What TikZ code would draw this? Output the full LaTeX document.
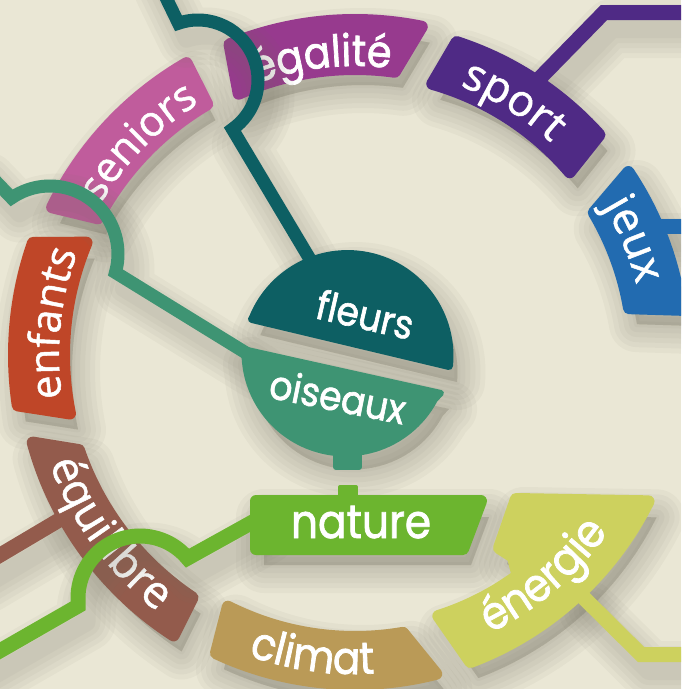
\documentclass[tikz,border=0pt]{standalone}
\usepackage{fontspec}
\newfontfamily\geo[FakeStretch=0.9,FakeBold=1.6]{Poppins}
\newfontfamily\hum[FakeBold=1.2]{Open Sans}
\usetikzlibrary{calc,decorations.text}
\definecolor{bg}{HTML}{EAE7D5}
\definecolor{shc}{HTML}{747061}
\definecolor{cEga}{HTML}{973A8E}
\definecolor{cSen}{HTML}{C05C9C}
\definecolor{cEnf}{HTML}{BF4628}
\definecolor{cEqu}{HTML}{935B4C}
\definecolor{cCli}{HTML}{BA9A57}
\definecolor{cEne}{HTML}{CDD15E}
\definecolor{cNat}{HTML}{6CB52F}
\definecolor{cOis}{HTML}{3E9473}
\definecolor{cFle}{HTML}{0D5F63}
\definecolor{cSpo}{HTML}{4F2A85}
\definecolor{cJeu}{HTML}{226BB0}
% shapes (pixel coordinates, y downwards)
\def\pEga{($(355,355)+(-114:286)$) arc[start angle=-114,end angle=-82,radius=286] -- ($(355,355)+(-78.5:335)$) arc[start angle=-78.5,end angle=-112,radius=335] -- cycle}
\def\pSen{($(355,355)+(-152:291)$) arc[start angle=-152,end angle=-120.5,radius=291] -- ($(355,355)+(-120:337)$) arc[start angle=-120,end angle=-154,radius=337] -- cycle}
\def\pEnf{($(355,355)+(168.4:291)$) arc[start angle=168.4,end angle=202.7,radius=291] -- ($(355,355)+(199.2:341)$) arc[start angle=199.2,end angle=171.5,radius=341] -- cycle}
\def\pEqu{($(355,355)+(123.8:292)$) arc[start angle=123.8,end angle=161,radius=292] -- ($(355,355)+(164.8:334)$) arc[start angle=164.8,end angle=122.9,radius=334] -- cycle}
\def\pCli{($(355,355)+(116.8:282)$) arc[start angle=116.8,end angle=80.2,radius=282] -- ($(355,355)+(75.7:329)$) arc[start angle=75.7,end angle=115,radius=329] -- cycle}
\def\pSpo{($(355,355)+(-74.1:282)$) arc[start angle=-74.1,end angle=-40.4,radius=282] -- ($(355,355)+(-42:329)$) arc[start angle=-42,end angle=-72,radius=329] -- cycle}
\def\pJeu{($(355,355)+(-30.8:278)$) arc[start angle=-30.8,end angle=-9.7,radius=278] -- ($(355,355)+(-7.9:329)$) arc[start angle=-7.9,end angle=-33.8,radius=329] -- cycle}
\def\pEne{($(355,355)+(72.3:274)$) -- ($(355,355)+(69.4:328)$) arc[start angle=69.4,end angle=26.5,radius=328] -- (516,499) -- (499,548) -- (513,557) -- ($(355,355)+(53.6:274)$) arc[start angle=53.6,end angle=72.3,radius=274] -- cycle}
\def\pNat{(256,501) -- (481,501) -- (463,549) -- (256,549) -- cycle}
\def\pTab{(340,487) -- (356,487) -- (356,500) -- (340,500) -- cycle}
\def\pKnob{(336,452) -- (359,452) -- (359,467) -- (336,467) -- cycle}
\def\pFle{(252,319) -- (449,366) arc[start angle=5.6,end angle=-158.7,radius=102] -- cycle}
\def\pOis{(243,349) -- (441,393) -- ($(345.5,352.4)+(28:101)$) arc[start angle=28,end angle=176,radius=101] -- cycle}
% connectors
\def\cTeal{(155,-25) -- ($(198,80)+(251:60)$) arc[start angle=251,end angle=415,radius=60] -- (314,266)}
\def\cGT{(-20,165) -- ($(50,254)+(235.6:68)$) arc[start angle=235.6,end angle=375.8,radius=68] -- (251,356)}
\def\cGreen{(-30,668) -- (78,606) -- (78,598) arc[start angle=180,end angle=320,radius=62] -- (258,519)}
\def\cBrown{(-20,567) -- (66,516)}
\def\cPurple{(538,80) -- (604,12.5) -- (700,12.5)}
\def\cBlue{(650,226) -- (700,226)}
\def\cEner{(580,594) -- (641,654.5) -- (700,654.5)}
\newcommand\shadF[1]{\foreach \w in {56,46,36,26,16,6}{\path[shadowlayer, fill=shc, line width=\w pt] #1;}}
\newcommand\shadL[2]{\foreach \w in {44,34,24,14,4}{\path[shadowlayer, line width=#1pt+\w pt] #2;}}
\begin{document}
\begin{tikzpicture}[x=1pt, y=-1pt,
  seg/.style={fill=#1, draw=#1, line width=12pt, line join=round},
  conn/.style={draw=#1, line width=15pt, line join=miter, line cap=butt},
  shadowlayer/.style={draw=shc, opacity=0.055, line join=round, line cap=round, shift={(8,16)}},
  lbl/.style={text=white, inner sep=0pt}]
\useasboundingbox (0,0) rectangle (681,689);
\clip (0,0) rectangle (681,689);
\fill[bg] (0,0) rectangle (681,689);
% shadows of base layer
\shadL{15}{\cBrown}\shadL{15}{\cPurple}\shadL{15}{\cBlue}\shadL{15}{\cEner}
\shadF{\pEga}\shadF{\pSen}\shadF{\pEnf}\shadF{\pEqu}\shadF{\pCli}
\shadF{\pSpo}\shadF{\pJeu}\shadF{\pEne}\shadF{\pNat}\shadF{\pFle}\shadF{\pOis}
% connectors lying under the boxes
\path[conn=cEqu] \cBrown;
\path[conn=cSpo] \cPurple;
\path[conn=cJeu] \cBlue;
\path[conn=cEne] \cEner;
% ring segments
\path[seg=cEga] \pEga;
\path[seg=cSen] \pSen;
\path[seg=cEnf] \pEnf;
\path[seg=cEqu] \pEqu;
\path[seg=cCli] \pCli;
\path[seg=cSpo] \pSpo;
\path[seg=cJeu] \pJeu;
\path[seg=cEne] \pEne;
% labels along the ring
\path[decorate,decoration={text along path,text align=center,text={|\geo\fontsize{44}{44}\selectfont\color{white}|égalité}}] ($(355,355)+(-131.5:289)$) arc[start angle=-131.5,end angle=-61.5,radius=289];
\path[decorate,decoration={text along path,text align=center,text={|\hum\fontsize{42}{42}\selectfont\color{white}|seniors}}] ($(355,355)+(-170.5:296)$) arc[start angle=-170.5,end angle=-100.5,radius=296];
\path[decorate,decoration={text along path,text align=center,text={|\hum\fontsize{42}{42}\selectfont\color{white}|enfants}}] ($(355,355)+(151:296)$) arc[start angle=151,end angle=221,radius=296];
\path[decorate,decoration={text along path,text align=center,text={|\hum\fontsize{44}{44}\selectfont\color{white}|sport}}] ($(355,355)+(-93:289)$) arc[start angle=-93,end angle=-23,radius=289];
\path[decorate,decoration={text along path,text align=center,text={|\hum\fontsize{44}{44}\selectfont\color{white}|jeux}}] ($(355,355)+(-57.5:290)$) arc[start angle=-57.5,end angle=12.5,radius=290];
\path[decorate,decoration={text along path,text align=center,text={|\hum\fontsize{45}{45}\selectfont\color{white}|équilibre}}] ($(355,355)+(179:324)$) arc[start angle=179,end angle=109,radius=324];
\path[decorate,decoration={text along path,text align=center,text={|\geo\fontsize{45}{45}\selectfont\color{white}|climat}}] ($(355,355)+(133:319)$) arc[start angle=133,end angle=63,radius=319];
\path[decorate,decoration={text along path,text align=center,text={|\geo\fontsize{46}{46}\selectfont\color{white}|énergie}}] ($(355,355)+(84.5:309)$) arc[start angle=84.5,end angle=14.5,radius=309];
% shadows of the bridging connectors
\shadL{13}{\cTeal}\shadL{13}{\cGT}\shadL{15}{\cGreen}
% centre shapes
\path[seg=cNat] \pNat;
\path[seg=cNat, line width=4pt] \pTab;
\path[seg=cOis, line width=6pt] \pKnob;
\path[seg=cOis, line width=6pt] \pOis;
\path[seg=cFle, line width=8pt] \pFle;
\node[lbl, anchor=base, rotate=-13, font=\geo\fontsize{40}{40}\selectfont] (fleurs) at (362,329) {fleurs};
\node[lbl, anchor=base, rotate=-11.3, font=\geo\fontsize{40}{40}\selectfont] (oiseaux) at (335,411) {oiseaux};
\node[lbl, anchor=base, font=\geo\fontsize{47}{47}\selectfont] (nature) at (361,538) {nature};
% bridging connectors
\path[conn=cFle, line width=13pt] \cTeal;
\path[conn=cOis, line width=13pt] \cGT;
\path[conn=cNat] \cGreen;
\end{tikzpicture}
\end{document}
